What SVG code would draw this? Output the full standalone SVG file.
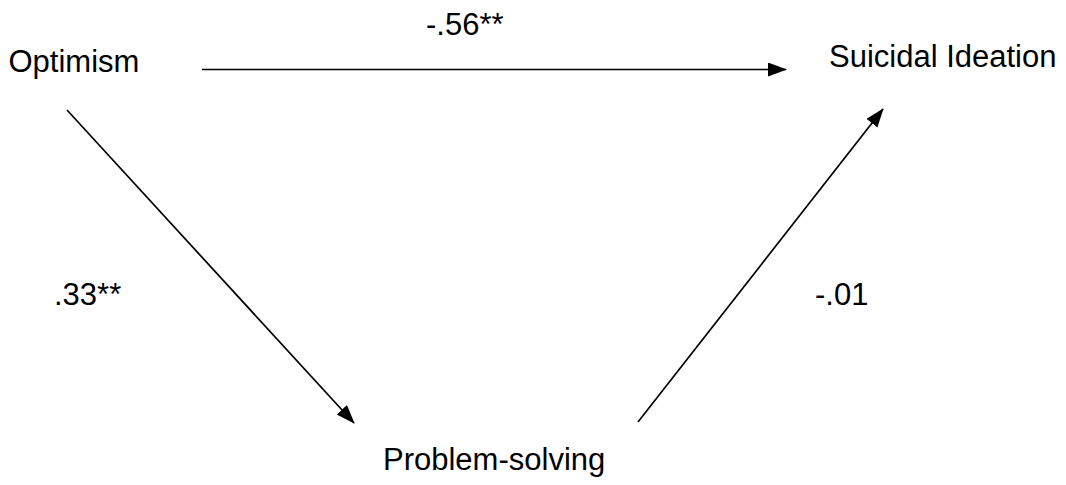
<svg xmlns="http://www.w3.org/2000/svg" width="1066" height="485" viewBox="0 0 1066 485">
<style>
text{font-family:"Liberation Sans",Arial,sans-serif;font-size:31px;fill:#000}
.c line{stroke:#000;stroke-width:1.7;fill:none}
</style>
<defs>
<marker id="ah" markerUnits="userSpaceOnUse" markerWidth="20" markerHeight="15" refX="18" refY="7" orient="auto" viewBox="0 0 20 15">
<path d="M0,0 L19,7 L0,14 z" fill="#000"/>
</marker>
</defs>
<rect width="1066" height="485" fill="#fff"/>
<g id="optimism"><text x="8.5" y="72">Optimism</text></g>
<g id="suicidal"><text x="829" y="67">Suicidal Ideation</text></g>
<g id="problem"><text x="383" y="470">Problem-solving</text></g>
<g class="c" id="connectors">
<line x1="202" y1="69.5" x2="786" y2="69.5" marker-end="url(#ah)"/>
<line x1="67" y1="110" x2="354" y2="423" marker-end="url(#ah)"/>
<line x1="638" y1="422" x2="883" y2="109" marker-end="url(#ah)"/>
</g>
<g id="labels">
<text x="426" y="35">-.56**</text>
<text x="54" y="305">.33**</text>
<text x="815" y="305">-.01</text>
</g>
</svg>
